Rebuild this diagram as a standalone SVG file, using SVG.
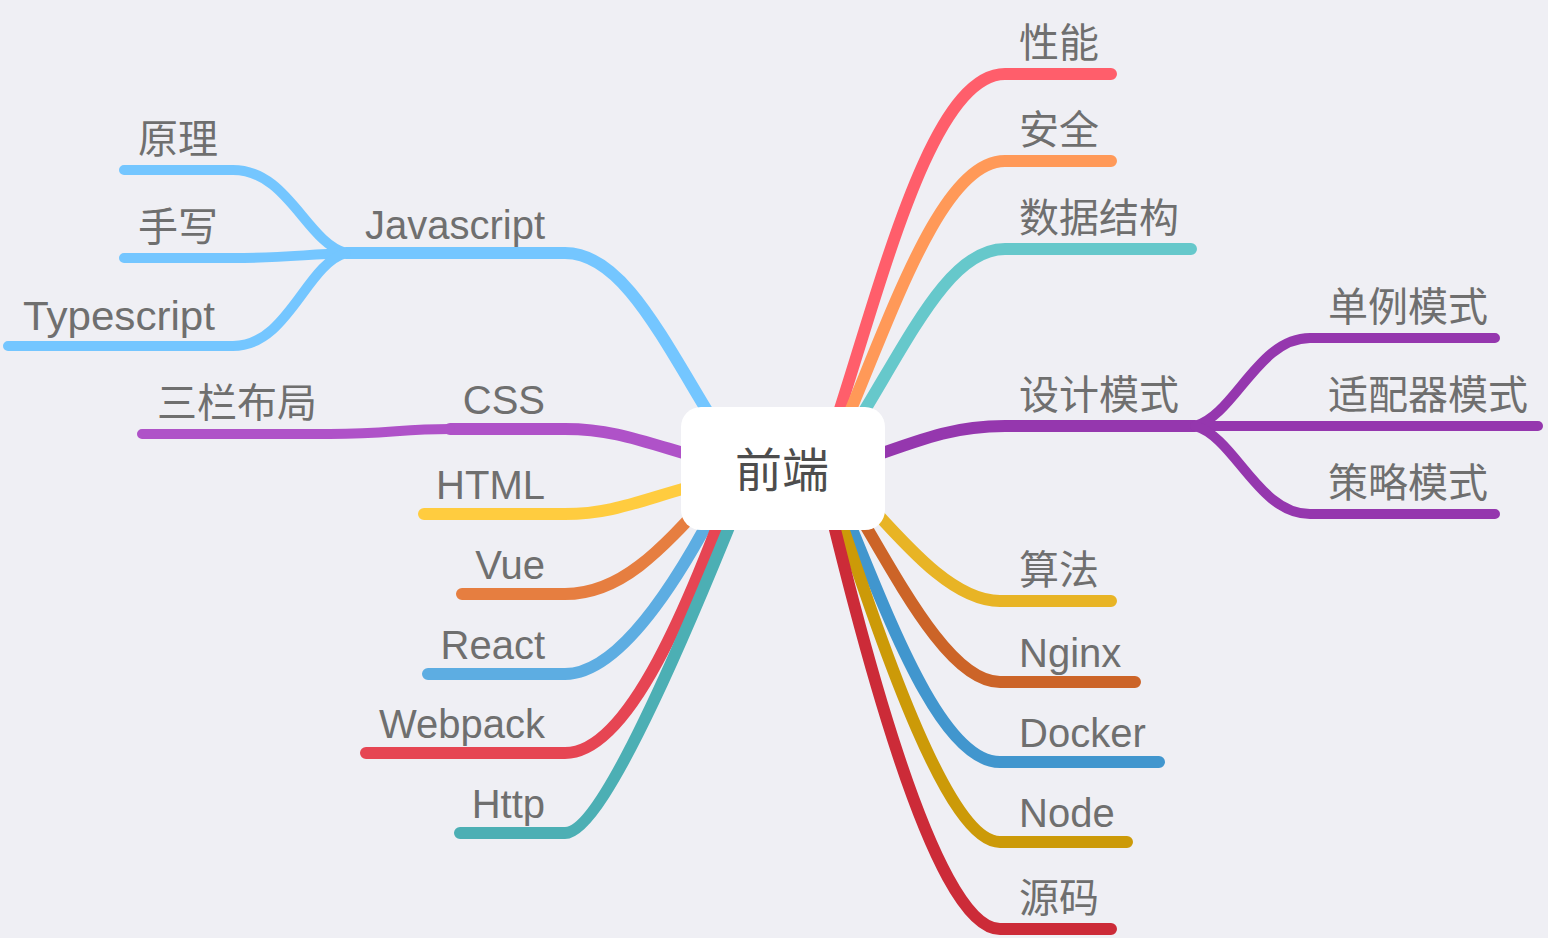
<svg xmlns="http://www.w3.org/2000/svg" width="1548" height="938" viewBox="0 0 1548 938">
<style>
.c{fill:none;stroke-linecap:round;stroke-linejoin:round;stroke-width:12}
.s{stroke-width:10}
.t{font-family:"Liberation Sans","Noto Sans CJK SC",sans-serif;font-size:40px;fill:#6f6f6f}
.e{text-anchor:end}
.root{font-family:"Liberation Sans","Noto Sans CJK SC",sans-serif;font-size:47px;fill:#4d4d4d;text-anchor:middle}
</style>
<rect width="1548" height="938" fill="#EFEFF4"/>
<g id="connectors">
  <path class="c" stroke="#74C6FF" d="M725,440 C665,345 625,253 565,253 L346,253"/>
  <path class="c s" stroke="#74C6FF" d="M346,253 C306,242 288,170 233,170 L124,170"/>
  <path class="c s" stroke="#74C6FF" d="M346,253 C300,255 280,258 233,258 L124,258"/>
  <path class="c s" stroke="#74C6FF" d="M346,253 C306,264 288,346 233,346 L8,346"/>
  <path class="c" stroke="#AF52C8" d="M725,465 C650,445 620,429 565,429 L450,429"/>
  <path class="c s" stroke="#AF52C8" d="M450,429 C400,429 390,434 330,434 L142,434"/>
  <path class="c" stroke="#FFCC3F" d="M725,478 C650,495 620,514 565,514 L424,514"/>
  <path class="c" stroke="#E67E40" d="M725,480 C665,545 625,594 565,594 L462,594"/>
  <path class="c" stroke="#5DADE2" d="M730,480 C690,560 625,674 565,674 L428,674"/>
  <path class="c" stroke="#E64553" d="M735,480 C690,600 630,753 565,753 L366,753"/>
  <path class="c" stroke="#4CAFB4" d="M748,480 C700,600 605,833 565,833 L460,833"/>
  <path class="c" stroke="#FF5E6B" d="M830,440 C880,290 930,74 1005,74 L1111,74"/>
  <path class="c" stroke="#FF9958" d="M836,445 C890,320 940,161 1005,161 L1111,161"/>
  <path class="c" stroke="#66C8CB" d="M840,450 C905,350 945,249 1005,249 L1191,249"/>
  <path class="c" stroke="#9537AE" d="M840,468 C920,440 950,426 1005,426 L1195,426"/>
  <path class="c s" stroke="#9537AE" d="M1195,426 C1235,415 1258,338 1310,338 L1495,338"/>
  <path class="c s" stroke="#9537AE" d="M1195,426 L1538,426"/>
  <path class="c s" stroke="#9537AE" d="M1195,426 C1235,437 1258,514 1310,514 L1495,514"/>
  <path class="c" stroke="#E8B425" d="M835,470 C880,510 940,601 1000,601 L1111,601"/>
  <path class="c" stroke="#CC6428" d="M825,460 C880,540 940,682 1000,682 L1135,682"/>
  <path class="c" stroke="#4196CE" d="M822,460 C870,560 930,762 1000,762 L1159,762"/>
  <path class="c" stroke="#CC9A08" d="M820,460 C862,580 940,842 1000,842 L1127,842"/>
  <path class="c" stroke="#CC2B38" d="M818,460 C852,600 930,929 1000,929 L1111,929"/>
</g>
<g id="root">
  <rect x="681" y="407" width="204" height="123" rx="20" fill="#FFFFFF"/>
  <text class="root" x="782" y="487">前端</text>
</g>
<g id="n-javascript"><text class="t e" x="545" y="239">Javascript</text></g>
<g id="n-yuanli"><text class="t" x="138" y="153">原理</text></g>
<g id="n-shouxie"><text class="t" x="138" y="241">手写</text></g>
<g id="n-typescript"><text class="t" x="23" y="330" textLength="192" lengthAdjust="spacingAndGlyphs">Typescript</text></g>
<g id="n-css"><text class="t e" x="545" y="414">CSS</text></g>
<g id="n-sanlan"><text class="t" x="157" y="417">三栏布局</text></g>
<g id="n-html"><text class="t e" x="545" y="499">HTML</text></g>
<g id="n-vue"><text class="t e" x="545" y="579">Vue</text></g>
<g id="n-react"><text class="t e" x="545" y="659">React</text></g>
<g id="n-webpack"><text class="t e" x="545" y="738">Webpack</text></g>
<g id="n-http"><text class="t e" x="545" y="818">Http</text></g>
<g id="n-xingneng"><text class="t" x="1019" y="57">性能</text></g>
<g id="n-anquan"><text class="t" x="1019" y="144">安全</text></g>
<g id="n-shuju"><text class="t" x="1019" y="232">数据结构</text></g>
<g id="n-sheji"><text class="t" x="1019" y="409">设计模式</text></g>
<g id="n-danli"><text class="t" x="1328" y="321">单例模式</text></g>
<g id="n-shipei"><text class="t" x="1328" y="409">适配器模式</text></g>
<g id="n-celue"><text class="t" x="1328" y="497">策略模式</text></g>
<g id="n-suanfa"><text class="t" x="1019" y="584">算法</text></g>
<g id="n-nginx"><text class="t" x="1019" y="667">Nginx</text></g>
<g id="n-docker"><text class="t" x="1019" y="747">Docker</text></g>
<g id="n-node"><text class="t" x="1019" y="827">Node</text></g>
<g id="n-yuanma"><text class="t" x="1019" y="912">源码</text></g>
</svg>
